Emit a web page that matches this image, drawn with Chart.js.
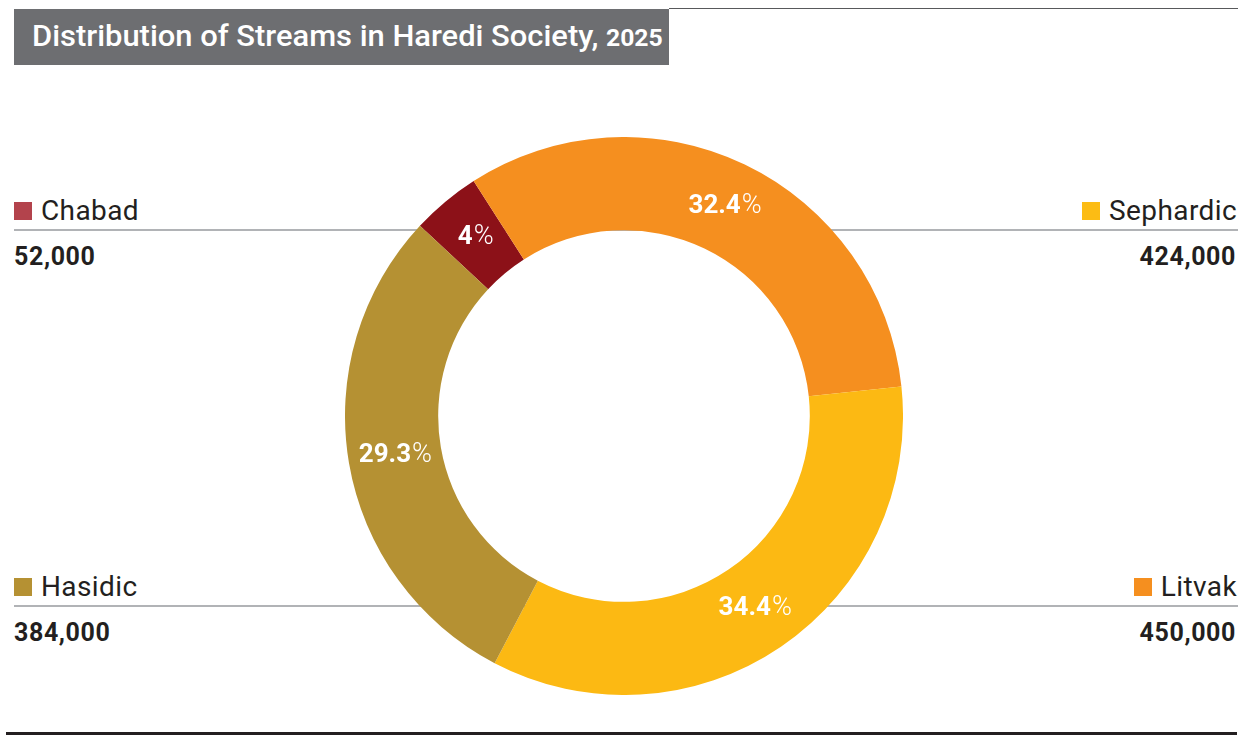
<!DOCTYPE html>
<html>
<head>
<meta charset="utf-8">
<script src="https://cdn.jsdelivr.net/npm/chart.js@4"></script>
<style>
  html, body { margin: 0; padding: 0; background: #fff; }
  body { width: 1245px; height: 736px; position: relative; overflow: hidden; font-family: Roboto, "Noto Sans", sans-serif; color: #231f20; }
  .topline { position: absolute; left: 669px; right: 7px; top: 8px; height: 1px; background: #58595b; }
  .titlebox { position: absolute; left: 14px; top: 9px; width: 655px; height: 56px; background: #6d6e71; }
  .titlebox span { position: absolute; left: 18px; top: 9px; color: #fff; font-size: 30px; font-weight: 500; line-height: 36px; white-space: nowrap; transform: scaleX(1.03); transform-origin: left center; }
  .titlebox b { font-size: 24px; font-weight: bold; }
  .bottomline { position: absolute; left: 6px; right: 8px; top: 732px; height: 3px; background: #231f20; }
  .rule { position: absolute; height: 2px; background: #b1b3b6; }
  .name { position: absolute; font-size: 28px; letter-spacing: 0.4px; white-space: nowrap; line-height: 1; }
  .name i { display: inline-block; width: 18px; height: 18px; margin-right: 9px; vertical-align: 0; }
  .count { position: absolute; font-size: 25px; font-weight: bold; letter-spacing: 0.6px; line-height: 1; }
  #wrap { position: absolute; left: 345px; top: 137px; width: 558px; height: 558px; }
</style>
</head>
<body>
<div class="topline"></div>
<div class="titlebox"><span>Distribution of Streams in Haredi Society, <b>2025</b></span></div>
<div class="bottomline"></div>
<div id="legend"></div>
<div id="wrap"><canvas id="ring"></canvas></div>
<script>
// slices clockwise from the top-left
const streams = ["Chabad", "Litvak", "Sephardic", "Hasidic"];
const population = [52000, 450000, 424000, 384000];
const sharePct = [4, 32.4, 34.4, 29.3];
const sliceColors = ["#8c1118", "#f58f1f", "#fcb913", "#b59133"];
const keyColors = ["#b3434c", "#f58f1f", "#fcbc14", "#b59133"];
// where each legend block sits: [side, row]
const keySlots = [["left", 0], ["right", 1], ["right", 0], ["left", 1]];

const legend = document.getElementById("legend");
const rowY = [230, 606];
streams.forEach((name, i) => {
  const [side, row] = keySlots[i];
  const y = rowY[row];
  const rule = document.createElement("div");
  rule.className = "rule";
  rule.style.top = (y - 1) + "px";
  if (side === "left") { rule.style.left = "14px"; rule.style.width = "610px"; }
  else { rule.style.left = "624px"; rule.style.width = "614px"; }
  legend.appendChild(rule);

  const label = document.createElement("div");
  label.className = "name";
  label.innerHTML = '<i style="background:' + keyColors[i] + '"></i>' + name;
  label.style.top = (y - 33) + "px";
  const count = document.createElement("div");
  count.className = "count";
  count.textContent = population[i].toLocaleString("en-US");
  count.style.top = (y + 14) + "px";
  if (side === "left") { label.style.left = "14px"; count.style.left = "14px"; }
  else { label.style.right = "8px"; count.style.right = "9px"; }
  legend.appendChild(label);
  legend.appendChild(count);
});

// percentage text in the middle of each slice
const sliceLabels = {
  id: "sliceLabels",
  afterDatasetsDraw(chart) {
    const c = chart.ctx;
    chart.getDatasetMeta(0).data.forEach((arc, i) => {
      const p = arc.tooltipPosition();
      const num = String(sharePct[i]);
      c.save();
      c.fillStyle = "#fff";
      c.textBaseline = "middle";
      c.font = "bold 26px Roboto, sans-serif";
      const w1 = c.measureText(num).width;
      c.font = "300 27px Roboto, sans-serif";
      const w2 = c.measureText("%").width;
      const x = p.x - (w1 + w2) / 2;
      c.font = "bold 26px Roboto, sans-serif";
      c.fillText(num, x, p.y);
      c.font = "300 27px Roboto, sans-serif";
      c.fillText("%", x + w1 + 1, p.y);
      c.restore();
    });
  }
};

new Chart(document.getElementById("ring"), {
  type: "doughnut",
  data: {
    labels: streams,
    datasets: [{
      data: sharePct,
      backgroundColor: sliceColors,
      borderWidth: 0
    }]
  },
  options: {
    responsive: true,
    maintainAspectRatio: false,
    animation: false,
    cutout: "66.6%",
    rotation: -47,
    layout: { padding: 0 },
    plugins: { legend: { display: false }, tooltip: { enabled: false } }
  },
  plugins: [sliceLabels]
});
</script>
</body>
</html>
